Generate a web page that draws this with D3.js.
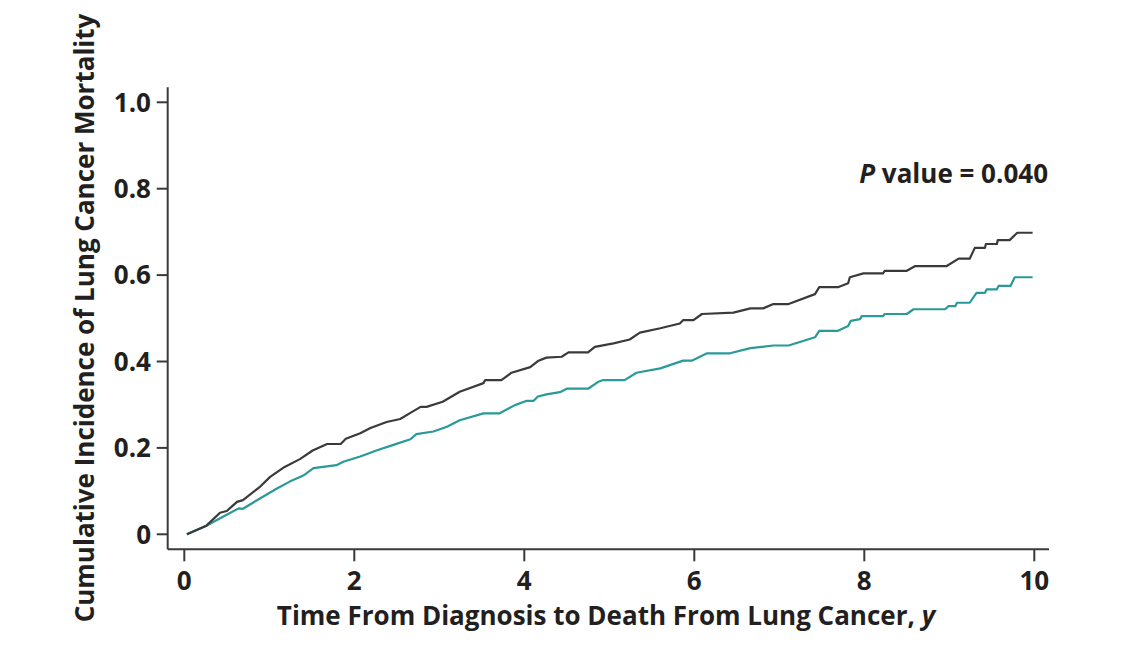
<!DOCTYPE html>
<html>
<head>
<meta charset="utf-8">
<script src="https://cdn.jsdelivr.net/npm/d3@7"></script>
<style>
  body { margin: 0; background: #fff; }
  text { font-family: "Open Sans", "Noto Sans", sans-serif; font-weight: 700; fill: #231f20; }
</style>
</head>
<body>
<svg class="chart"></svg>
<script>
// years since diagnosis / cumulative incidence
var blackX = [0.03, 0.26, 0.42, 0.50, 0.62, 0.69, 0.89, 1.01, 1.18, 1.36, 1.51, 1.68, 1.84, 1.90, 2.07, 2.19, 2.38, 2.54, 2.66, 2.78, 2.85, 3.04, 3.24,
    3.52, 3.54, 3.73, 3.85, 4.07, 4.16, 4.26, 4.44, 4.52, 4.75, 4.83, 5.05, 5.24, 5.36, 5.60, 5.83, 5.87, 5.99, 6.09, 6.46,
    6.66, 6.81, 6.93, 7.11, 7.42, 7.47, 7.69, 7.81, 7.83, 7.99, 8.22, 8.24, 8.50, 8.60, 8.97, 9.11, 9.24, 9.30, 9.42, 9.43,
    9.56, 9.57, 9.71, 9.80, 9.98];
var blackY = [0, 0.020, 0.050, 0.054, 0.075, 0.079, 0.110, 0.133, 0.156, 0.174, 0.194, 0.209, 0.209, 0.221, 0.234, 0.246, 0.260, 0.267, 0.281, 0.295, 0.295, 0.307, 0.330,
    0.350, 0.357, 0.357, 0.374, 0.387, 0.401, 0.409, 0.411, 0.421, 0.421, 0.434, 0.442, 0.451, 0.467, 0.477, 0.488, 0.496, 0.496, 0.510, 0.513,
    0.523, 0.523, 0.533, 0.533, 0.556, 0.572, 0.572, 0.581, 0.595, 0.604, 0.604, 0.610, 0.610, 0.621, 0.621, 0.638, 0.638, 0.663, 0.663, 0.672,
    0.672, 0.681, 0.681, 0.698, 0.698];

var tealX = [0.03, 0.26, 0.46, 0.64, 0.69, 0.89, 1.09, 1.24, 1.40, 1.52, 1.79, 1.87, 2.07, 2.26, 2.46, 2.66, 2.73, 2.93, 3.09, 3.24,
    3.52, 3.71, 3.89, 4.03, 4.11, 4.16, 4.26, 4.42, 4.50, 4.75, 4.87, 4.93, 5.18, 5.32, 5.60, 5.87, 5.97, 6.15, 6.42, 6.66,
    6.93, 7.11, 7.42, 7.47, 7.69, 7.81, 7.84, 7.95, 7.97, 8.22, 8.24, 8.50, 8.58, 8.95, 8.99, 9.07, 9.09, 9.24, 9.32, 9.42,
    9.44, 9.56, 9.58, 9.72, 9.75, 9.77, 9.98];
var tealY = [0, 0.020, 0.041, 0.060, 0.059, 0.083, 0.106, 0.122, 0.136, 0.153, 0.160, 0.168, 0.180, 0.194, 0.207, 0.220, 0.232, 0.238, 0.249, 0.264,
    0.280, 0.280, 0.299, 0.309, 0.309, 0.319, 0.324, 0.329, 0.337, 0.337, 0.353, 0.357, 0.357, 0.374, 0.384, 0.402, 0.402, 0.419, 0.419, 0.431,
    0.437, 0.437, 0.456, 0.471, 0.471, 0.482, 0.494, 0.498, 0.505, 0.505, 0.510, 0.510, 0.521, 0.521, 0.528, 0.528, 0.536, 0.536, 0.559, 0.559,
    0.567, 0.567, 0.575, 0.575, 0.587, 0.595, 0.595];

var xTicks = [0, 2, 4, 6, 8, 10];
var yTicks = [0, 0.2, 0.4, 0.6, 0.8, 1.0];
var yTickLabels = ['0', '0.2', '0.4', '0.6', '0.8', '1.0'];

var config = {
    width: 1132,
    height: 648,
    xRange: [184.3, 1034.3],
    yRange: [534.3, 102.3],
    axisX: {y: 549.3, x0: 167.7, x1: 1049},
    axisY: {x: 167.7, y0: 87.3, y1: 549.3},
    tickSize: 11,
    fontSize: '26px'
};

var chart = d3.select('svg.chart')
    .attr('width', config.width)
    .attr('height', config.height);

var scaleX = d3.scaleLinear().domain([0, 10]).range(config.xRange);
var scaleY = d3.scaleLinear().domain([0, 1]).range(config.yRange);

var axisColor = '#3a3a3a';

// axis lines
chart.append('line')
    .attr('x1', config.axisX.x0).attr('x2', config.axisX.x1)
    .attr('y1', config.axisX.y).attr('y2', config.axisX.y)
    .attr('stroke', axisColor).attr('stroke-width', 2);

chart.append('line')
    .attr('x1', config.axisY.x).attr('x2', config.axisY.x)
    .attr('y1', config.axisY.y0).attr('y2', config.axisY.y1)
    .attr('stroke', axisColor).attr('stroke-width', 2);

// x ticks
var gx = chart.append('g').attr('class', 'axis-x');
gx.selectAll('line.tick').data(xTicks).enter().append('line')
    .attr('class', 'tick')
    .attr('x1', function(d){ return scaleX(d); })
    .attr('x2', function(d){ return scaleX(d); })
    .attr('y1', config.axisX.y)
    .attr('y2', config.axisX.y + config.tickSize + 1)
    .attr('stroke', axisColor).attr('stroke-width', 2);

gx.selectAll('text').data(xTicks).enter().append('text')
    .attr('x', function(d){ return scaleX(d); })
    .attr('y', 590)
    .attr('text-anchor', 'middle')
    .style('font-size', config.fontSize)
    .text(function(d){ return d; });

// y ticks
var gy = chart.append('g').attr('class', 'axis-y');
gy.selectAll('line.tick').data(yTicks).enter().append('line')
    .attr('class', 'tick')
    .attr('x1', config.axisY.x - config.tickSize)
    .attr('x2', config.axisY.x)
    .attr('y1', function(d){ return scaleY(d); })
    .attr('y2', function(d){ return scaleY(d); })
    .attr('stroke', axisColor).attr('stroke-width', 2);

gy.selectAll('text').data(yTicks).enter().append('text')
    .attr('x', 151)
    .attr('y', function(d){ return scaleY(d); })
    .attr('dy', '0.36em')
    .attr('text-anchor', 'end')
    .style('font-size', config.fontSize)
    .text(function(d, i){ return yTickLabels[i]; });

// axis titles
chart.append('text')
    .attr('x', 606)
    .attr('y', 625)
    .attr('text-anchor', 'middle')
    .style('font-size', config.fontSize)
    .html('Time From Diagnosis to Death From Lung Cancer, <tspan font-style="italic">y</tspan>');

chart.append('text')
    .attr('transform', 'translate(94,318) rotate(-90)')
    .attr('text-anchor', 'middle')
    .style('font-size', config.fontSize)
    .text('Cumulative Incidence of Lung Cancer Mortality');

// p value
chart.append('text')
    .attr('x', 1048)
    .attr('y', 183)
    .attr('text-anchor', 'end')
    .style('font-size', config.fontSize)
    .html('<tspan font-style="italic">P</tspan> value = 0.040');

// curves
var line = d3.line()
    .x(function(d){ return scaleX(d[0]); })
    .y(function(d){ return scaleY(d[1]); });

var series = [
    {color: '#289a97', pts: d3.zip(tealX, tealY)},
    {color: '#3a3a3a', pts: d3.zip(blackX, blackY)}
];

chart.selectAll('path.curve').data(series).enter().append('path')
    .attr('class', 'curve')
    .attr('d', function(d){ return line(d.pts); })
    .attr('fill', 'none')
    .attr('stroke', function(d){ return d.color; })
    .attr('stroke-width', 2.2)
    .attr('stroke-linejoin', 'round');
</script>
</body>
</html>
